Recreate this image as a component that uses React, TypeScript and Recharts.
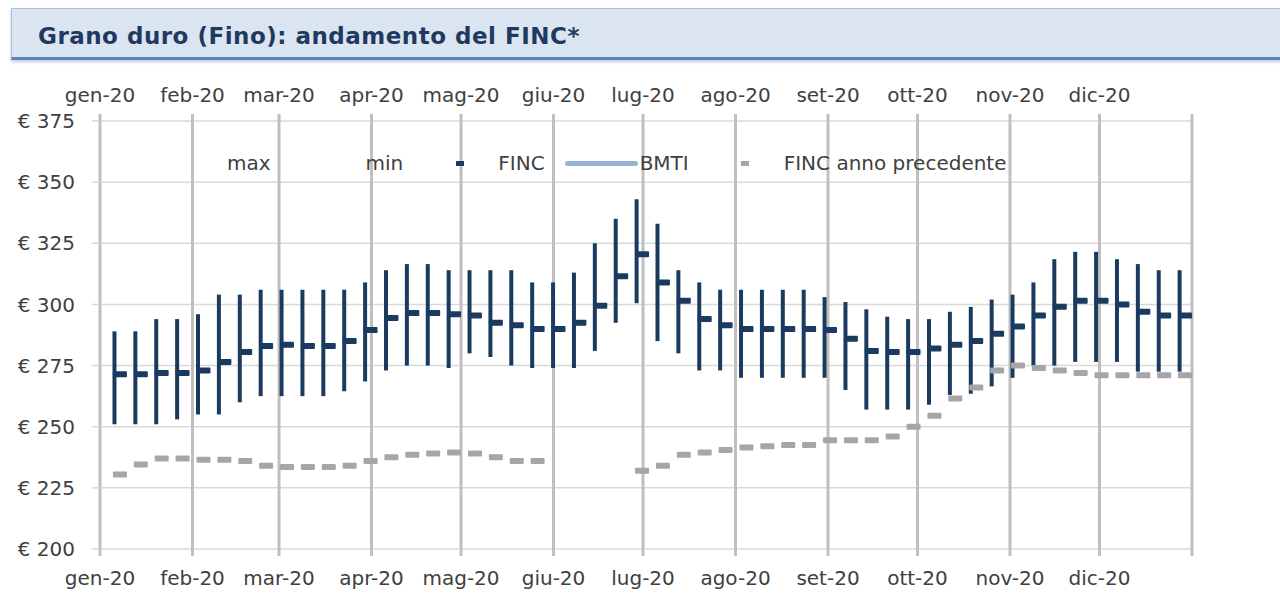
import React from "react";
import {
  ComposedChart,
  XAxis,
  YAxis,
  CartesianGrid,
  Bar,
  Scatter,
  Legend,
} from "recharts";

// settimane 2020 (primo punto: lunedì 6 gennaio = giorno 5 dell'anno)
const firstWeekDay = 5;

const fincMax = [
  289, 289, 294, 294, 296, 304, 304, 306, 306, 306, 306, 306, 309,
  314, 316.5, 316.5, 314, 314, 314, 314, 309, 309, 313, 325, 335, 343,
  333, 314, 309, 306, 306, 306, 306, 306, 303, 301, 298, 295, 294,
  294, 297, 299, 302, 304, 309, 318.5, 321.5, 321.5, 318.5, 316.5, 314, 314,
];

const fincMin = [
  251, 251, 251, 253, 255, 255, 260, 262.5, 262.5, 262.5, 262.5, 264.5, 268.5,
  273, 275, 275, 274, 280, 278.5, 275, 274, 274, 274, 281, 292.5, 300.5,
  285, 280, 273, 273, 270, 270, 270, 270, 270, 265, 257, 257, 257,
  259, 263, 263.5, 266.5, 270, 275, 275, 276.5, 276.5, 276.5, 272.5, 272.5, 272.5,
];

const fincClose = [
  271.5, 271.5, 272, 272, 273, 276.5, 280.5, 283, 283.5, 283, 283, 285, 289.5,
  294.5, 296.5, 296.5, 296, 295.5, 292.5, 291.5, 290, 290, 292.5, 299.5, 311.5, 320.5,
  309, 301.5, 294, 291.5, 290, 290, 290, 290, 289.5, 286, 281, 280.5, 280.5,
  282, 283.5, 285, 288, 291, 295.5, 299, 301.5, 301.5, 300, 297, 295.5, 295.5,
];

const fincPrevYear: (number | null)[] = [
  230.5, 234.5, 237, 237, 236.5, 236.5, 236, 234, 233.5, 233.5, 233.5, 234, 236,
  237.5, 238.5, 239, 239.5, 239, 237.5, 236, 236, null, null, null, null, 232,
  234, 238.5, 239.5, 240.5, 241.5, 242, 242.5, 242.5, 244.5, 244.5, 244.5, 246, 250,
  254.5, 261.5, 266, 273, 275, 274, 273, 272, 271, 271, 271, 271, 271,
];

const monthStartDays = [0, 31, 60, 91, 121, 152, 182, 213, 244, 274, 305, 335, 366];
const monthLabels = [
  "gen-20", "feb-20", "mar-20", "apr-20", "mag-20", "giu-20",
  "lug-20", "ago-20", "set-20", "ott-20", "nov-20", "dic-20",
];
const priceTicks = [200, 225, 250, 275, 300, 325, 350, 375];

const navy = "#1b3a60";
const gray = "#a6a6a6";
const bmtiBlue = "#95b3d7";
const font = "DejaVu Sans";

const legendItems = [
  { label: "max", icon: "none", color: "" },
  { label: "min", icon: "none", color: "" },
  { label: "FINC", icon: "dash", color: navy },
  { label: "BMTI", icon: "line", color: bmtiBlue },
  { label: "FINC anno precedente", icon: "dash", color: gray },
];

const data = fincMax.map((max, i) => ({
  day: firstWeekDay + 7 * i,
  range: [fincMin[i], max],
  finc: fincClose[i],
  prev: fincPrevYear[i],
}));

const monthLabel = (v: number) => {
  const i = monthStartDays.indexOf(v);
  return i >= 0 && i < monthLabels.length ? monthLabels[i] : "";
};

const DashMarker = (color: string, key: "finc" | "prev") => (props: any) => {
  const { cx, cy, payload } = props;
  if (payload == null || payload[key] == null || cy == null || isNaN(cy)) return <g />;
  return <rect x={cx - 2} y={cy - 3} width={14} height={6} rx={1} fill={color} />;
};

const LegendContent = () => (
  <div
    style={{
      display: "flex",
      alignItems: "center",
      fontFamily: font,
      fontSize: 20,
      color: "#404040",
      whiteSpace: "nowrap",
    }}
  >
    {legendItems.map((it) => (
      <div key={it.label} style={{ display: "flex", alignItems: "center", marginRight: 20 }}>
        <span style={{ width: 73, height: 20, display: "flex", alignItems: "center", justifyContent: "center" }}>
          {it.icon === "dash" && (
            <span style={{ width: 8, height: 5, background: it.color, display: "block" }} />
          )}
          {it.icon === "line" && (
            <span style={{ width: 73, height: 5, borderRadius: 3, background: it.color, display: "block" }} />
          )}
        </span>
        <span style={{ marginLeft: 2 }}>{it.label}</span>
      </div>
    ))}
  </div>
);

const tickStyle = { fill: "#404040", fontSize: 20, fontFamily: font };

export default function App() {
  return (
    <div
      style={{
        position: "absolute",
        left: 0,
        top: 0,
        width: 1280,
        height: 598,
        background: "#ffffff",
        overflow: "hidden",
      }}
    >
      <div
        style={{
          position: "absolute",
          left: 11,
          top: 8,
          width: 1269,
          height: 48,
          background: "#dbe5f1",
          borderTop: "1px solid #a9bfdc",
          borderLeft: "1px solid #a9bfdc",
          borderBottom: "3px solid #5b84bd",
          boxShadow: "0 2px 3px rgba(80,110,160,0.35)",
        }}
      />
      <div
        style={{
          position: "absolute",
          left: 38,
          top: 23,
          fontFamily: font,
          fontWeight: "bold",
          fontSize: 23,
          letterSpacing: 0.5,
          color: "#1f3a60",
          whiteSpace: "nowrap",
        }}
      >
        Grano duro (Fino): andamento del FINC*
      </div>
      <div style={{ position: "absolute", left: 0, top: 0 }}>
        <ComposedChart
          width={1280}
          height={598}
          data={data}
          margin={{ top: 0, right: 0, bottom: 0, left: 0 }}
        >
          <CartesianGrid vertical={false} stroke="#d9d9d9" strokeWidth={1.5} />
          <CartesianGrid horizontal={false} stroke="#bfbfbf" strokeWidth={3} />
          <XAxis
            dataKey="day"
            type="number"
            domain={[0, 366]}
            ticks={monthStartDays}
            tickFormatter={monthLabel}
            height={49}
            axisLine={false}
            tickSize={7}
            tickMargin={15}
            tickLine={{ stroke: "#bfbfbf", strokeWidth: 3 }}
            tick={tickStyle}
            interval={0}
          />
          <XAxis
            xAxisId="top"
            orientation="top"
            dataKey="day"
            type="number"
            domain={[0, 366]}
            ticks={monthStartDays}
            tickFormatter={monthLabel}
            height={121}
            axisLine={false}
            tickSize={7}
            tickMargin={12}
            tickLine={{ stroke: "#bfbfbf", strokeWidth: 3 }}
            tick={tickStyle}
            interval={0}
          />
          <YAxis
            type="number"
            domain={[200, 375]}
            ticks={priceTicks}
            width={100}
            axisLine={false}
            tickSize={8}
            tickMargin={17}
            tickLine={{ stroke: "#d9d9d9", strokeWidth: 1.5 }}
            tick={tickStyle}
            tickFormatter={(v: number) => `€ ${v}`}
            interval={0}
          />
          <YAxis
            yAxisId="right"
            orientation="right"
            type="number"
            domain={[200, 375]}
            ticks={priceTicks}
            width={88}
            axisLine={false}
            tickSize={8}
            tickMargin={17}
            tickLine={{ stroke: "#d9d9d9", strokeWidth: 1.5 }}
            tick={tickStyle}
            tickFormatter={(v: number) => `€ ${v}`}
            interval={0}
          />
          <Legend
            verticalAlign="middle"
            align="center"
            layout="horizontal"
            wrapperStyle={{ top: 151, left: 152, width: 1000 }}
            content={LegendContent}
          />
          <Bar
            dataKey="range"
            barSize={4}
            fill={navy}
            isAnimationActive={false}
          />
          <Scatter
            dataKey="finc"
            shape={DashMarker(navy, "finc")}
            isAnimationActive={false}
          />
          <Scatter
            dataKey="prev"
            shape={DashMarker(gray, "prev")}
            isAnimationActive={false}
          />
        </ComposedChart>
      </div>
    </div>
  );
}
